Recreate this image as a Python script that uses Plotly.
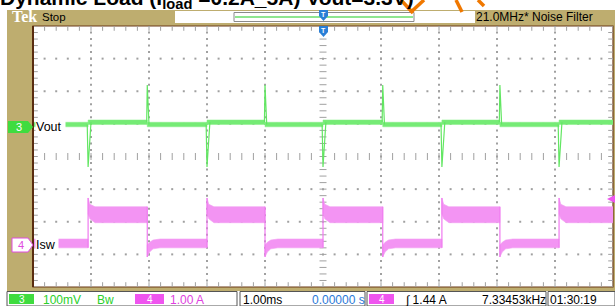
import numpy as np
import plotly.graph_objects as go

W, H = 615, 306

# ---------------- data ----------------
STEP_TIMES_MS = [-4.05, -3.03, -2.00, -1.00, 0.00, 1.03, 2.05, 3.05, 4.07]
STEP_KIND = ["up", "down", "up", "down", "up", "down", "up", "down", "up"]

ISW_LOW_BAND_A = [-0.09, 0.18]     # [lower, upper] envelope while load is light
ISW_HIGH_BAND_A = [0.68, 1.17]     # [lower, upper] envelope while load is heavy
ISW_RISE_REC_MS = [0.0, 0.03, 0.12]
ISW_RISE_UPPER_A = [1.44, 1.25, 1.17]
ISW_RISE_LOWER_A = [0.95, 0.80, 0.68]
ISW_FALL_REC_MS = [0.0, 0.04, 0.10, 0.22]
ISW_FALL_UPPER_A = [0.00, 0.08, 0.15, 0.18]
ISW_FALL_LOWER_A = [-0.37, -0.22, -0.12, -0.09]

VOUT_LIGHT_MV = 7
VOUT_HEAVY_MV = 14
VOUT_NOISE_MV = 7
VOUT_DIP_MV = -123
VOUT_SPIKE_MV = 128

CH3_MV_PER_DIV = 100.0
CH3_REF_DIV = 0.91
CH4_A_PER_DIV = 1.0
CH4_REF_DIV = -2.71

# ---------------- helpers ----------------
PLOT_L, PLOT_R, PLOT_T, PLOT_B = 33, 613, 26, 287


def px(x):
    return x / W


def py(y):
    return 1 - y / H


def a2d(a):
    return a / CH4_A_PER_DIV + CH4_REF_DIV


def mv2d(v):
    return v / CH3_MV_PER_DIV + CH3_REF_DIV


bounds = [-5.0] + STEP_TIMES_MS + [5.0]
kinds = ["steady"] + STEP_KIND

# ---- Isw band polygons ----
isw_x, isw_y = [], []
for i in range(len(bounds) - 1):
    t0, t1, k = bounds[i], bounds[i + 1], kinds[i]
    if k == "steady":
        ux, uy = [t0, t1], [ISW_LOW_BAND_A[1]] * 2
        lx, ly = [t0, t1], [ISW_LOW_BAND_A[0]] * 2
    elif k == "up":
        ux = [t0 + d for d in ISW_RISE_REC_MS] + [t1]
        uy = ISW_RISE_UPPER_A + [ISW_HIGH_BAND_A[1]]
        lx = [t0 + d for d in ISW_RISE_REC_MS] + [t1]
        ly = ISW_RISE_LOWER_A + [ISW_HIGH_BAND_A[0]]
    else:
        ux = [t0 + d for d in ISW_FALL_REC_MS] + [t1]
        uy = ISW_FALL_UPPER_A + [ISW_LOW_BAND_A[1]]
        lx = [t0 + d for d in ISW_FALL_REC_MS] + [t1]
        ly = ISW_FALL_LOWER_A + [ISW_LOW_BAND_A[0]]
    xs = ux + lx[::-1] + [ux[0]]
    ys = [a2d(v) for v in uy + ly[::-1] + [uy[0]]]
    isw_x += xs + [None]
    isw_y += ys + [None]

# ---- Isw step edges ----
edge_x, edge_y = [], []
for t, k in zip(STEP_TIMES_MS, STEP_KIND):
    if k == "up":
        edge_x += [t, t, None]
        edge_y += [a2d(ISW_LOW_BAND_A[0]), a2d(ISW_RISE_UPPER_A[0]), None]
    else:
        edge_x += [t, t, None]
        edge_y += [a2d(ISW_HIGH_BAND_A[1]), a2d(ISW_FALL_LOWER_A[0]), None]

# ---- Vout band polygons ----
vout_x, vout_y = [], []
for i in range(len(bounds) - 1):
    t0, t1, k = bounds[i], bounds[i + 1], kinds[i]
    lvl = VOUT_HEAVY_MV if k == "up" else VOUT_LIGHT_MV
    xs = [t0, t1, t1, t0, t0]
    ys = [mv2d(v) for v in [lvl + VOUT_NOISE_MV, lvl + VOUT_NOISE_MV,
                            lvl - VOUT_NOISE_MV, lvl - VOUT_NOISE_MV,
                            lvl + VOUT_NOISE_MV]]
    vout_x += xs + [None]
    vout_y += ys + [None]

# ---- Vout transients ----
sp_x, sp_y = [], []
for t, k in zip(STEP_TIMES_MS, STEP_KIND):
    if k == "up":
        sp_x += [t - 0.015, t, t + 0.05, None]
        sp_y += [mv2d(VOUT_LIGHT_MV), mv2d(VOUT_DIP_MV), mv2d(VOUT_HEAVY_MV), None]
    else:
        sp_x += [t - 0.01, t, t + 0.03, None]
        sp_y += [mv2d(VOUT_HEAVY_MV), mv2d(VOUT_SPIKE_MV), mv2d(VOUT_LIGHT_MV), None]

fig = go.Figure()

# ---- graticule ----
GRID = "#a0a0a0"
gx, gy = [], []
for xv in range(-4, 5):
    if xv == 0:
        continue
    for yv in np.arange(-4, 4.001, 0.2):
        gx.append(xv); gy.append(yv)
for yv in range(-3, 4):
    if yv == 0:
        continue
    for xv in np.arange(-5, 5.001, 0.2):
        gx.append(xv); gy.append(yv)
fig.add_trace(go.Scatter(x=gx, y=gy, mode="markers", hoverinfo="skip",
                         marker=dict(symbol="square", size=2, color=GRID, line=dict(width=0))))
# center cross ticks
cy = list(np.arange(-4, 4.001, 0.2))
fig.add_trace(go.Scatter(x=[0] * len(cy), y=cy, mode="markers", hoverinfo="skip",
                         marker=dict(symbol="line-ew", size=5, line=dict(width=1, color=GRID))))
cx = list(np.arange(-5, 5.001, 0.2))
fig.add_trace(go.Scatter(x=cx, y=[0] * len(cx), mode="markers", hoverinfo="skip",
                         marker=dict(symbol="line-ns", size=5, line=dict(width=1, color=GRID))))
# edge ticks
ex = list(np.arange(-5, 5.001, 0.2))
fig.add_trace(go.Scatter(x=ex + ex, y=[4 - 2 / 32.6] * len(ex) + [-4 + 2 / 32.6] * len(ex),
                         mode="markers", hoverinfo="skip",
                         marker=dict(symbol="line-ns", size=4, line=dict(width=1, color=GRID))))
ey = list(np.arange(-4, 4.001, 0.2))
fig.add_trace(go.Scatter(x=[-5 + 2 / 58] * len(ey) + [5 - 2 / 58] * len(ey), y=ey + ey,
                         mode="markers", hoverinfo="skip",
                         marker=dict(symbol="line-ew", size=4, line=dict(width=1, color=GRID))))

# ---- Isw ----
fig.add_trace(go.Scatter(x=isw_x, y=isw_y, mode="lines", fill="toself",
                         line=dict(width=0.6, color="#f29cf2"),
                         fillcolor="#f398f3",
                         fillpattern=dict(shape="|", size=2, solidity=0.5,
                                          fgcolor="#ee72ee", bgcolor="#f8b6f8",
                                          fillmode="replace"),
                         hoverinfo="skip"))
fig.add_trace(go.Scatter(x=edge_x, y=edge_y, mode="lines",
                         line=dict(width=1.2, color="#f07af0"), hoverinfo="skip"))

# ---- Vout ----
fig.add_trace(go.Scatter(x=vout_x, y=vout_y, mode="lines", fill="toself",
                         line=dict(width=0.5, color="#86ee86"),
                         fillcolor="#7eee7e",
                         fillpattern=dict(shape="|", size=2, solidity=0.5,
                                          fgcolor="#52e452", bgcolor="#98f298",
                                          fillmode="replace"),
                         hoverinfo="skip"))
fig.add_trace(go.Scatter(x=sp_x, y=sp_y, mode="lines",
                         line=dict(width=1.2, color="#62e662"), hoverinfo="skip"))

# ---------------- decorations ----------------
TAN = "#bead6f"
shapes = []


def rect(x0, y0, x1, y1, fill=None, line=None, lw=1, layer="below"):
    shapes.append(dict(type="rect", xref="paper", yref="paper",
                       x0=px(x0), x1=px(x1), y0=py(y1), y1=py(y0),
                       fillcolor=fill or "rgba(0,0,0,0)",
                       line=dict(color=line or "rgba(0,0,0,0)", width=lw if line else 0),
                       layer=layer))


def poly(pts, fill, line=None, lw=1, layer="above"):
    d = "M " + " L ".join(f"{px(x)},{py(y)}" for x, y in pts) + " Z"
    shapes.append(dict(type="path", xref="paper", yref="paper", path=d,
                       fillcolor=fill, line=dict(color=line or fill, width=lw if line else 0),
                       layer=layer))


def seg(x0, y0, x1, y1, color, lw=1, layer="above"):
    shapes.append(dict(type="line", xref="paper", yref="paper",
                       x0=px(x0), y0=py(y0), x1=px(x1), y1=py(y1),
                       line=dict(color=color, width=lw), layer=layer))


rect(7, 10, 615, 291, fill=TAN)
rect(PLOT_L, PLOT_T, PLOT_R, PLOT_B, fill="white", line="#6a3a18", lw=1.2)
seg(PLOT_L, PLOT_T, PLOT_L, PLOT_B, "#5a2d10", 2, layer="above")
# top bar white record box
rect(175, 11, 475, 23, fill="white")
rect(234, 12.5, 414, 21.5, line="#8a8a8a", lw=1, layer="above")
seg(235, 17, 413, 17, "#8fe68f", 2)
# trigger position markers
BLUE = "#2a7fd6"
poly([(319, 10), (328, 10), (328, 16), (323.5, 21), (319, 16)], BLUE)
poly([(319, 26), (328, 26), (328, 32), (323.5, 37), (319, 32)], BLUE)
# channel badges on the left
poly([(8, 121), (28, 121), (33, 127), (28, 133), (8, 133)], "#3fdc3f")
poly([(12, 238), (28, 238), (33, 245), (28, 252), (12, 252)], "white", line="#e04ce0", lw=1)
# trigger level arrow on right
poly([(615, 195), (615, 203), (607, 199)], "#ee55ee")
# bottom status boxes
rect(0, 291, 615, 306, fill="white")
for x0, x1 in [(7, 237), (240, 365), (367, 546), (548, 615)]:
    rect(x0, 291.5, x1, 306, line="#555555", lw=1, layer="above")
poly([(9, 294), (34, 294), (34, 304), (9, 304)], "#3fdc3f")
poly([(135, 294), (164, 294), (164, 304), (135, 304)], "#ef55ef")
poly([(369, 294), (394, 294), (394, 304), (369, 304)], "#ef55ef")
# orange hand-drawn marks at the top
ORANGE = "#f07800"
seg(401, 0, 413, 13, ORANGE, 3.5)
seg(424, 0, 411, 12, ORANGE, 3.5)
seg(456, 0, 462, 12, ORANGE, 3.5)
seg(478, 0, 484, 6, ORANGE, 3.5)

UI = "Liberation Sans Narrow, Arial Narrow, Liberation Sans, Arial"
ann = []


def text(x, y, s, size=11, color="black", family=UI, anchor="left", bg=None, bold=False):
    ann.append(dict(xref="paper", yref="paper", x=px(x), y=py(y), text=(f"<b>{s}</b>" if bold else s),
                    xanchor=anchor, yanchor="middle", showarrow=False,
                    font=dict(size=size, color=color, family=family),
                    bgcolor=bg or "rgba(0,0,0,0)", borderpad=0))


# title (cropped at the top of the page)
ann.append(dict(xref="paper", yref="paper", x=px(-1), y=py(-15), xanchor="left", yanchor="top",
                showarrow=False, borderpad=0,
                text="<b>Dynamic Load (I<sub>load</sub> =0.2A_5A) Vout=3.3V)</b>",
                font=dict(size=21, color="black", family="Liberation Sans, Arial")))
text(11, 16.5, "<b>Tek</b>", 16, "white", "Liberation Serif, Times New Roman")
text(41, 17, "Stop", 11.5)
text(475, 17, "21.0MHz* Noise Filter", 12)
text(323.5, 14.5, "T", 7, "white", "Liberation Sans", anchor="center", bold=True)
text(323.5, 30.5, "T", 7, "white", "Liberation Sans", anchor="center", bold=True)
text(19, 127, "3", 11, "white", "Liberation Sans", anchor="center")
text(21, 245, "4", 11, "#e04ce0", "Liberation Sans", anchor="center")
text(35, 127, "Vout ", 12.5, bg="white")
text(35, 245, "Isw ", 12.5, bg="white")
text(21.5, 299.5, "3", 10, "white", "Liberation Sans", anchor="center")
text(42, 299.5, "100mV", 12, "#2ad02a")
text(96, 299.5, "Bw", 12, "#2ad02a")
text(149.5, 299.5, "4", 10, "white", "Liberation Sans", anchor="center")
text(169, 299.5, "1.00 A", 12, "#e040e0")
text(242, 299.5, "1.00ms", 12)
text(311, 299.5, "0.00000 s", 12, "#2a78d8")
text(381.5, 299.5, "4", 10, "white", "Liberation Sans", anchor="center")
text(404, 299.5, "∫ 1.44 A", 12)
text(481, 299.5, "7.33453kHz", 12)
text(549, 299.5, "01:30:19", 12)

fig.update_layout(
    width=W, height=H, margin=dict(l=0, r=0, t=0, b=0),
    paper_bgcolor="white", plot_bgcolor="rgba(0,0,0,0)",
    showlegend=False, shapes=shapes, annotations=ann,
    xaxis=dict(domain=[px(PLOT_L), px(PLOT_R)], range=[-5, 5], visible=False, fixedrange=True),
    yaxis=dict(domain=[py(PLOT_B), py(PLOT_T)], range=[-4, 4], visible=False, fixedrange=True),
)
fig.write_html("out.html", config={"displayModeBar": False},
               post_script="document.body.style.margin='0';document.body.style.overflow='hidden';")
